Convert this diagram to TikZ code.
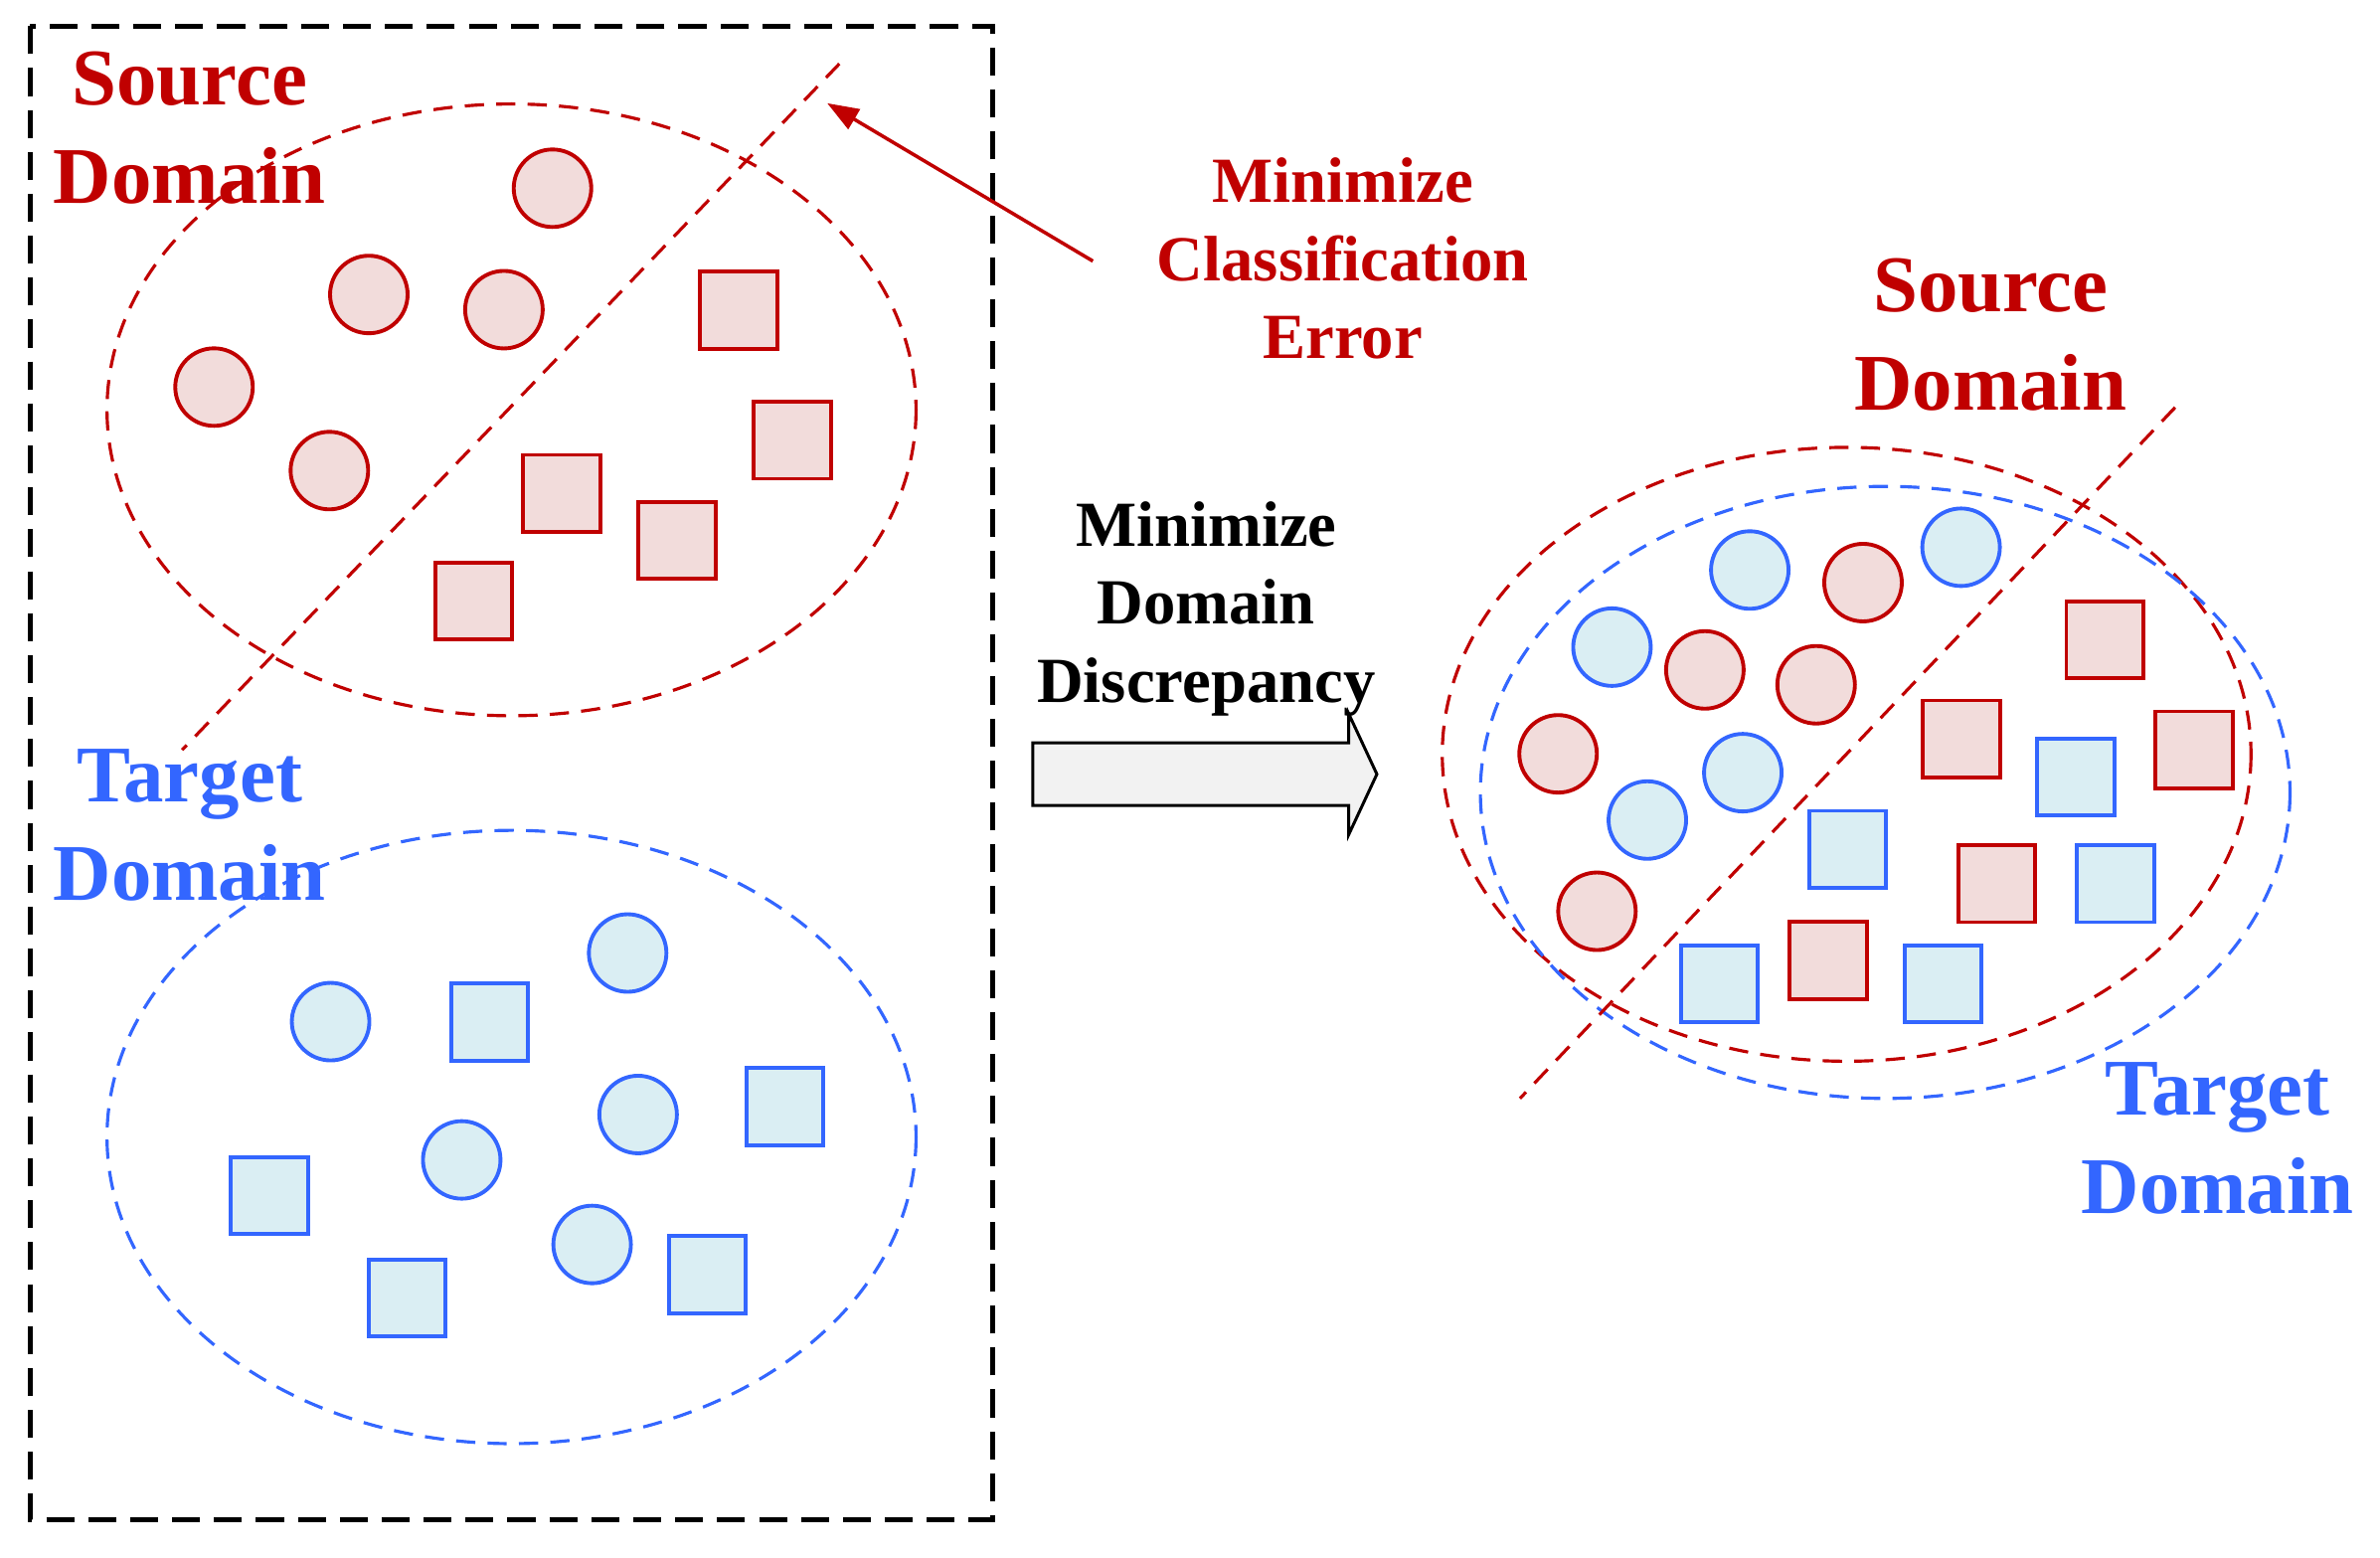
\documentclass[tikz,border=0pt]{standalone}
\usepackage{fontspec}
\setmainfont{Liberation Serif}
\usepackage{tikz}
\usetikzlibrary{shapes.arrows, arrows.meta}

\definecolor{srcred}{HTML}{C00000}
\definecolor{srcfill}{HTML}{F2DCDB}
\definecolor{tgtblue}{HTML}{3366FF}
\definecolor{tgtfill}{HTML}{DAEEF3}

\begin{document}
\begin{tikzpicture}[
    x=0.15268mm, y=-0.15268mm,
    >={Triangle[length=9pt, width=6.5pt]},
    % Source samples (red)
    srccirc/.style={
        circle, draw=srcred, fill=srcfill, line width=1.1pt,
        minimum size=0.78cm, inner sep=0pt
    },
    srcsq/.style={
        rectangle, draw=srcred, fill=srcfill, line width=1.1pt,
        minimum size=0.775cm, inner sep=0pt
    },
    % Target samples (blue)
    tgtcirc/.style={
        circle, draw=tgtblue, fill=tgtfill, line width=1.1pt,
        minimum size=0.78cm, inner sep=0pt
    },
    tgtsq/.style={
        rectangle, draw=tgtblue, fill=tgtfill, line width=1.1pt,
        minimum size=0.775cm, inner sep=0pt
    },
    % Domain outlines
    srcdom/.style={draw=srcred, line width=0.9pt, dash pattern=on 5.5pt off 3.5pt},
    tgtdom/.style={draw=tgtblue, line width=0.9pt, dash pattern=on 5.5pt off 3.5pt},
    % Classifier boundary
    bound/.style={srcred, line width=0.9pt, dash pattern=on 5.5pt off 3.5pt},
    % Labels (anchored on the baseline of the last line)
    bigtag/.style={
        font=\fontsize{23}{28.2}\selectfont\bfseries, align=center, anchor=base
    },
    smalltag/.style={
        font=\fontsize{18.4}{22.4}\selectfont\bfseries, align=center, anchor=base
    },
    % Arrows
    clsarr/.style={->, srcred, line width=1pt},
    bigarr/.style={
        single arrow, draw=black, fill=black!5, line width=0.85pt,
        minimum height=3.46cm, inner xsep=0pt, inner ysep=0.3cm,
        single arrow head extend=0.295cm, single arrow tip angle=130
    },
]

\useasboundingbox (0,0) rectangle (1568,1026);

% ===== Before adaptation =====
\draw[line width=1.3pt, dash pattern=on 8pt off 4pt] (19.8,17.2) rectangle (653.8,1001);

\draw[srcdom] (337,270) ellipse [x radius=266.5, y radius=201.5];
\draw[tgtdom] (337,749) ellipse [x radius=266.5, y radius=202];

% Source circles / squares
\node[srccirc] (lsc1) at (364,124) {};
\node[srccirc] (lsc2) at (243,194) {};
\node[srccirc] (lsc3) at (332,204) {};
\node[srccirc] (lsc4) at (141,255) {};
\node[srccirc] (lsc5) at (217,310) {};
\node[srcsq] (lss1) at (486.6,204.4) {};
\node[srcsq] (lss2) at (522,290) {};
\node[srcsq] (lss3) at (370,325) {};
\node[srcsq] (lss4) at (446,356) {};
\node[srcsq] (lss5) at (312,396) {};

% Target circles / squares
\node[tgtcirc] (ltc1) at (217.8,673) {};
\node[tgtcirc] (ltc2) at (413.5,627.8) {};
\node[tgtcirc] (ltc3) at (420.4,734.2) {};
\node[tgtcirc] (ltc4) at (304.2,764.1) {};
\node[tgtcirc] (ltc5) at (390.1,819.8) {};
\node[tgtsq] (lts1) at (322.5,673.3) {};
\node[tgtsq] (lts2) at (517.2,729) {};
\node[tgtsq] (lts3) at (177.6,787.5) {};
\node[tgtsq] (lts4) at (268.3,855.1) {};
\node[tgtsq] (lts5) at (466.1,839.7) {};

% Boundary learned on source only
\coordinate (lbtop) at (553,42);
\coordinate (lbbot) at (120,494);
\draw[bound] (lbtop) -- (lbbot);

\node[bigtag, text=srcred] (lsrc) at (125,134.1) {Source\\Domain};
\node[bigtag, text=tgtblue] (ltgt) at (125,593) {Target\\Domain};

% Classification error
\node[smalltag, text=srcred] (mce) at (884.7,236.3) {Minimize\\Classification\\Error};
\coordinate (arrtail) at (720,172);
\coordinate (arrtip) at (545,68);
\draw[clsarr] (arrtail) -- (arrtip);

% ===== Domain discrepancy =====
\node[smalltag] (mdd) at (794.7,462.8) {Minimize\\Domain\\Discrepancy};
\node[bigarr] (adapt) at (789,510) {};

% ===== After adaptation =====
\draw[srcdom] (1216.6,496.9) ellipse [x radius=266.4, y radius=202.2];
\draw[tgtdom] (1242,522) ellipse [x radius=266.7, y radius=201.6];

\node[tgtcirc] (rtc1) at (1152.8,375.5) {};
\node[tgtcirc] (rtc2) at (1292,360.5) {};
\node[tgtcirc] (rtc3) at (1062,426.3) {};
\node[tgtcirc] (rtc4) at (1148.2,509) {};
\node[tgtcirc] (rtc5) at (1085.3,540.2) {};
\node[srccirc] (rsc1) at (1227.4,383.8) {};
\node[srccirc] (rsc2) at (1123.2,441.3) {};
\node[srccirc] (rsc3) at (1196.5,451.1) {};
\node[srccirc] (rsc4) at (1026.5,496.6) {};
\node[srccirc] (rsc5) at (1052.1,600.3) {};

\node[srcsq] (rss1) at (1386.7,421.4) {};
\node[srcsq] (rss2) at (1292.3,486.8) {};
\node[srcsq] (rss3) at (1445.5,494) {};
\node[srcsq] (rss4) at (1315.6,582.1) {};
\node[srcsq] (rss5) at (1204.4,632.7) {};
\node[tgtsq] (rts1) at (1367.5,511.8) {};
\node[tgtsq] (rts2) at (1217.2,559.5) {};
\node[tgtsq] (rts3) at (1393.7,582.1) {};
\node[tgtsq] (rts4) at (1132.8,648.1) {};
\node[tgtsq] (rts5) at (1280.1,648.1) {};

% Shared boundary
\coordinate (rbtop) at (1433,268.4);
\coordinate (rbbot) at (1001.4,723.6);
\draw[bound] (rbtop) -- (rbbot);

\node[bigtag, text=srcred] (rsrc) at (1311.5,270) {Source\\Domain};
\node[bigtag, text=tgtblue] (rtgt) at (1461,799.6) {Target\\Domain};

\end{tikzpicture}
\end{document}
